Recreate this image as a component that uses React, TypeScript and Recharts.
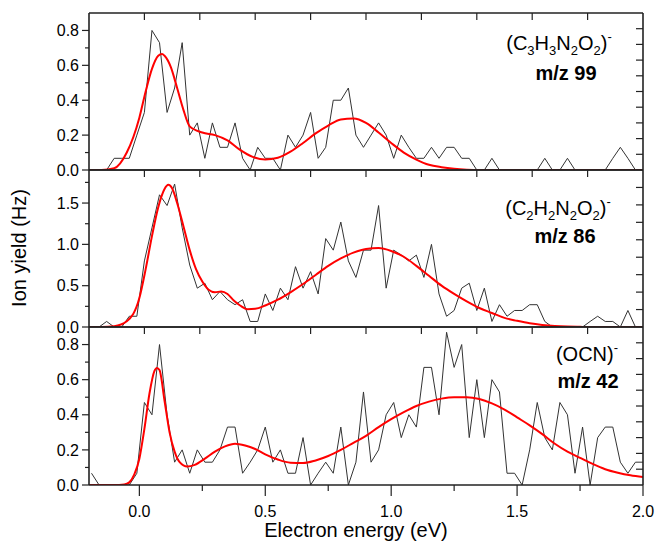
import React from 'react';
import { LineChart, Line, XAxis, YAxis } from 'recharts';

// Electron energy grid of the measured spectra (eV)
const energy = [
  -0.19, -0.16, -0.13, -0.10, -0.07, -0.04, -0.01, 0.02, 0.05, 0.08,
  0.11, 0.14, 0.17, 0.20, 0.23, 0.26, 0.29, 0.32, 0.35, 0.38,
  0.41, 0.44, 0.47, 0.50, 0.53, 0.56, 0.59, 0.62, 0.65, 0.68,
  0.71, 0.74, 0.77, 0.80, 0.83, 0.86, 0.89, 0.92, 0.95, 0.98,
  1.01, 1.04, 1.07, 1.10, 1.13, 1.16, 1.19, 1.22, 1.25, 1.28,
  1.31, 1.34, 1.37, 1.40, 1.43, 1.46, 1.49, 1.52, 1.55, 1.58,
  1.61, 1.64, 1.67, 1.70, 1.73, 1.76, 1.79, 1.82, 1.85, 1.88,
  1.91, 1.94, 1.97, 2.00,
];

// m/z 99 measured ion yield (Hz)
const yield99 = [
  0, 0, 0, 0.067, 0.067, 0.067, 0.2, 0.33, 0.8, 0.73,
  0.33, 0.47, 0.73, 0.2, 0.27, 0.067, 0.27, 0.13, 0.13, 0.27,
  0.067, 0, 0.13, 0.067, 0.067, 0, 0.2, 0.13, 0.2, 0.33,
  0.067, 0.13, 0.4, 0.4, 0.47, 0.2, 0.13, 0.2, 0.27, 0.2,
  0.067, 0.2, 0.13, 0.067, 0.067, 0.13, 0.067, 0.13, 0.13, 0.067,
  0.067, 0, 0, 0.067, 0, 0, 0, 0, 0, 0,
  0.067, 0, 0, 0.067, 0, 0, 0, 0, 0, 0.067,
  0.13, 0.067, 0, 0,
];

// m/z 86 measured ion yield (Hz)
const yield86 = [
  0, 0, 0.067, 0, 0, 0.13, 0.13, 0.8, 1.2, 1.6,
  1.47, 1.73, 1.2, 0.75, 0.47, 0.53, 0.33, 0.43, 0.33, 0.27,
  0.33, 0.067, 0.067, 0.4, 0.2, 0.47, 0.33, 0.73, 0.47, 0.67,
  0.4, 1.07, 0.93, 1.27, 0.8, 0.6, 0.93, 0.93, 1.47, 0.47,
  0.93, 0.87, 0.8, 0.87, 0.6, 1.0, 0.4, 0.13, 0.2, 0.47,
  0.53, 0.2, 0.47, 0.067, 0.27, 0.13, 0.2, 0.2, 0.27, 0.27,
  0.067, 0, 0, 0, 0, 0, 0.067, 0.13, 0.067, 0.067,
  0, 0.2, 0, 0,
];

// m/z 42 measured ion yield (Hz)
const yield42 = [
  0.067, 0, 0, 0, 0, 0, 0.067, 0.47, 0.4, 0.8,
  0.4, 0.13, 0.2, 0.067, 0.2, 0.13, 0.13, 0.2, 0.33, 0.33,
  0.067, 0.13, 0.2, 0.33, 0.13, 0.2, 0.067, 0.067, 0.27, 0,
  0.067, 0.13, 0.067, 0.33, 0, 0.13, 0.53, 0.13, 0.2, 0.4,
  0.47, 0.27, 0.4, 0.33, 0.67, 0.67, 0.4, 0.87, 0.67, 0.8,
  0.27, 0.6, 0.27, 0.6, 0.53, 0.067, 0.067, 0, 0.2, 0.47,
  0.27, 0.2, 0.47, 0.4, 0.067, 0.33, 0, 0.27, 0.33, 0.33,
  0.13, 0.067, 0.13, 0.13,
];

// Fitted curves (red)
const fit99Energy = [
  -0.2, -0.15, -0.1, -0.05, 0, 0.025, 0.05, 0.075, 0.09, 0.1,
  0.125, 0.15, 0.175, 0.2, 0.25, 0.3, 0.35, 0.4, 0.45, 0.5,
  0.55, 0.6, 0.65, 0.7, 0.75, 0.8, 0.85, 0.9, 0.95, 1.0,
  1.05, 1.1, 1.15, 1.2, 1.25, 1.3, 1.35, 1.5, 2.0,
];
const fit99 = [
  0, 0, 0.01, 0.1, 0.3, 0.45, 0.58, 0.655, 0.665, 0.655,
  0.59, 0.47, 0.345, 0.25, 0.215, 0.2, 0.17, 0.115, 0.075, 0.06,
  0.07, 0.105, 0.155, 0.21, 0.255, 0.29, 0.295, 0.27, 0.215, 0.155,
  0.1, 0.06, 0.03, 0.016, 0.007, 0.002, 0, 0, 0,
];

const fit86Energy = [
  -0.2, -0.15, -0.1, -0.05, 0, 0.025, 0.05, 0.075, 0.1, 0.115,
  0.13, 0.15, 0.175, 0.2, 0.225, 0.25, 0.275, 0.3, 0.325, 0.35,
  0.375, 0.4, 0.43, 0.46, 0.5, 0.55, 0.6, 0.65, 0.7, 0.75,
  0.8, 0.85, 0.9, 0.95, 1.0, 1.05, 1.1, 1.15, 1.2, 1.25,
  1.3, 1.35, 1.4, 1.45, 1.5, 1.55, 1.6, 1.65, 1.7, 1.75,
  1.8, 2.0,
];
const fit86 = [
  0, 0, 0.01, 0.07, 0.35, 0.7, 1.1, 1.45, 1.67, 1.72,
  1.68, 1.5, 1.22, 0.93, 0.7, 0.55, 0.45, 0.42, 0.43, 0.4,
  0.32, 0.26, 0.215, 0.22, 0.26, 0.33, 0.42, 0.52, 0.63, 0.74,
  0.83, 0.9, 0.945, 0.955, 0.92, 0.85, 0.74, 0.62, 0.5, 0.4,
  0.31, 0.23, 0.17, 0.11, 0.075, 0.045, 0.025, 0.012, 0.005, 0.002,
  0, 0,
];

const fit42Energy = [
  -0.2, -0.1, -0.06, -0.04, -0.02, 0, 0.02, 0.04, 0.06, 0.07,
  0.08, 0.1, 0.12, 0.14, 0.16, 0.19, 0.22, 0.26, 0.3, 0.34,
  0.38, 0.42, 0.46, 0.5, 0.55, 0.6, 0.65, 0.7, 0.75, 0.8,
  0.85, 0.9, 0.95, 1.0, 1.05, 1.1, 1.15, 1.2, 1.25, 1.3,
  1.35, 1.4, 1.45, 1.5, 1.55, 1.6, 1.65, 1.7, 1.75, 1.8,
  1.85, 1.9, 1.95, 2.0,
];
const fit42 = [
  0, 0, 0.003, 0.015, 0.06, 0.15, 0.32, 0.52, 0.65, 0.667,
  0.655, 0.48, 0.3, 0.19, 0.13, 0.105, 0.115, 0.15, 0.19, 0.22,
  0.235, 0.225, 0.205, 0.175, 0.145, 0.127, 0.125, 0.14, 0.165, 0.2,
  0.24, 0.28, 0.33, 0.375, 0.415, 0.45, 0.475, 0.492, 0.5, 0.5,
  0.49, 0.465, 0.43, 0.385, 0.34, 0.29, 0.235, 0.19, 0.155, 0.12,
  0.09, 0.07, 0.055, 0.045,
];

const X_MIN = -0.2;
const X_MAX = 2.0;
const xMajorTicks = [0, 0.5, 1.0, 1.5, 2.0];
const xMinorTicks = [0.25, 0.75, 1.25, 1.75];
const smallMajor = [0, 0.2, 0.4, 0.6, 0.8];
const smallMinor = [0.1, 0.3, 0.5, 0.7];
const bigMajor = [0, 0.5, 1.0, 1.5];
const bigMinor = [0.25, 0.75, 1.25, 1.75];
// opposite (top / right) frame edges are split into equal divisions
const topDivisions = 10;

const W = 655;
const H = 541;
const PLOT_LEFT = 89;
const PLOT_RIGHT = 643;
const AX = '#222';

const isIn = (arr: number[], v: number) => arr.some((a) => Math.abs(a - v) < 1e-9);

function XTick(props: any) {
  const { x, y, payload } = props;
  const v = payload.value as number;
  const major = isIn(xMajorTicks, v);
  return (
    <g>
      <line x1={x} x2={x} y1={y} y2={y + (major ? 11 : 6)} stroke={AX} strokeWidth={1.2} />
      {major && (
        <text x={x} y={y + 21} textAnchor="middle" fontSize={16} fill="#000" dy="0.71em">
          {v.toFixed(1)}
        </text>
      )}
    </g>
  );
}

function makeYTick(majors: number[]) {
  return function YTick(props: any) {
    const { x, y, payload } = props;
    const v = payload.value as number;
    const major = isIn(majors, v);
    return (
      <g>
        <line x1={x - (major ? 7 : 4)} x2={x} y1={y} y2={y} stroke={AX} strokeWidth={1.2} />
        {major && (
          <text x={x - 10} y={y} textAnchor="end" fontSize={16} fill="#000" dy="0.355em">
            {v.toFixed(1)}
          </text>
        )}
      </g>
    );
  };
}

type PanelProps = {
  top: number;
  bottom: number;
  yMax: number;
  major: number[];
  minor: number[];
  counts: number[];
  fitX: number[];
  fitY: number[];
  labelled: boolean;
};

function Panel({ top, bottom, yMax, major, minor, counts, fitX, fitY, labelled }: PanelProps) {
  const data = energy.map((x, i) => ({ x, y: counts[i] }));
  const fit = fitX.map((x, i) => ({ x, y: fitY[i] }));
  const yTicks = [...major, ...minor].sort((a, b) => a - b);
  const YTick = makeYTick(major);
  return (
    <div style={{ position: 'absolute', left: 0, top: 0 }}>
      <LineChart width={W} height={H} margin={{ top, bottom: H - bottom - 1, left: PLOT_LEFT - 1, right: W - PLOT_RIGHT }}>
        <XAxis
          xAxisId="e"
          dataKey="x"
          type="number"
          domain={[X_MIN, X_MAX]}
          allowDataOverflow
          height={1}
          ticks={labelled ? [...xMajorTicks, ...xMinorTicks].sort((a, b) => a - b) : []}
          tick={labelled ? <XTick /> : false}
          interval={0}
          tickSize={0}
          tickMargin={0}
          tickLine={false}
          stroke={AX}
          axisLine={{ stroke: AX, strokeWidth: 1.6 }}
        />
        <YAxis
          yAxisId="v"
          type="number"
          domain={[0, yMax]}
          allowDataOverflow
          width={1}
          ticks={yTicks}
          interval={0}
          tick={<YTick />}
          tickSize={0}
          tickMargin={0}
          tickLine={false}
          stroke={AX}
          axisLine={{ stroke: AX, strokeWidth: 1.6 }}
        />
        <Line
          xAxisId="e"
          yAxisId="v"
          data={data}
          dataKey="y"
          type="linear"
          stroke="#333"
          strokeWidth={1}
          dot={false}
          isAnimationActive={false}
        />
        <Line
          xAxisId="e"
          yAxisId="v"
          data={fit}
          dataKey="y"
          type="monotone"
          stroke="#ff0000"
          strokeWidth={2}
          dot={false}
          isAnimationActive={false}
        />
      </LineChart>
    </div>
  );
}

// Opposite frame edges (top and right) with their inward division ticks
const frames = [
  { top: 13, bottom: 170, rightDivisions: 10 },
  { top: 170, bottom: 327, rightDivisions: 9 },
  { top: 327, bottom: 485, rightDivisions: 10 },
];

function FrameOverlay() {
  const plotW = PLOT_RIGHT - PLOT_LEFT;
  return (
    <svg width={W} height={H} style={{ position: 'absolute', left: 0, top: 0, pointerEvents: 'none' }}>
      {frames.map((f, k) => {
        const plotH = f.bottom - f.top;
        return (
          <g key={k} stroke={AX}>
            <line x1={PLOT_LEFT} x2={PLOT_RIGHT} y1={f.top} y2={f.top} strokeWidth={1.6} />
            <line x1={PLOT_RIGHT} x2={PLOT_RIGHT} y1={f.top} y2={f.bottom} strokeWidth={1.6} />
            {Array.from({ length: topDivisions - 1 }, (_, i) => {
              const x = PLOT_LEFT + (plotW * (i + 1)) / topDivisions;
              return <line key={`t${i}`} x1={x} x2={x} y1={f.top} y2={f.top + 7} strokeWidth={1.2} />;
            })}
            {Array.from({ length: f.rightDivisions - 1 }, (_, i) => {
              const y = f.bottom - (plotH * (i + 1)) / f.rightDivisions;
              return <line key={`r${i}`} x1={PLOT_RIGHT - 7} x2={PLOT_RIGHT} y1={y} y2={y} strokeWidth={1.2} />;
            })}
          </g>
        );
      })}
    </svg>
  );
}

const subStyle: React.CSSProperties = { fontSize: 13, verticalAlign: 'baseline', position: 'relative', top: 5 };
const supStyle: React.CSSProperties = { fontSize: 13, verticalAlign: 'baseline', position: 'relative', top: -9 };

function Label({ x, y, bold, children }: { x: number; y: number; bold?: boolean; children: React.ReactNode }) {
  return (
    <div
      style={{
        position: 'absolute',
        left: x - 100,
        top: y,
        width: 200,
        textAlign: 'center',
        fontSize: 20,
        lineHeight: '20px',
        fontWeight: bold ? 'bold' : 'normal',
        color: '#000',
        whiteSpace: 'nowrap',
      }}
    >
      {children}
    </div>
  );
}

export default function App() {
  return (
    <div
      style={{
        position: 'absolute',
        left: 0,
        top: 0,
        width: W,
        height: H,
        background: '#fff',
        overflow: 'hidden',
        fontFamily: '"Liberation Sans", Arial, sans-serif',
      }}
    >
      <Panel top={13} bottom={170} yMax={0.9} major={smallMajor} minor={smallMinor} counts={yield99} fitX={fit99Energy} fitY={fit99} labelled={false} />
      <Panel top={170} bottom={327} yMax={1.9} major={bigMajor} minor={bigMinor} counts={yield86} fitX={fit86Energy} fitY={fit86} labelled={false} />
      <Panel top={327} bottom={485} yMax={0.9} major={smallMajor} minor={smallMinor} counts={yield42} fitX={fit42Energy} fitY={fit42} labelled={true} />
      <FrameOverlay />

      <Label x={559} y={33}>
        (C<span style={subStyle}>3</span>H<span style={subStyle}>3</span>N<span style={subStyle}>2</span>O<span style={subStyle}>2</span>)<span style={supStyle}>-</span>
      </Label>
      <Label x={566} y={63} bold>m/z 99</Label>

      <Label x={558} y={198}>
        (C<span style={subStyle}>2</span>H<span style={subStyle}>2</span>N<span style={subStyle}>2</span>O<span style={subStyle}>2</span>)<span style={supStyle}>-</span>
      </Label>
      <Label x={565} y={226} bold>m/z 86</Label>

      <Label x={587} y={344}>
        (OCN)<span style={supStyle}>-</span>
      </Label>
      <Label x={588} y={371} bold>m/z 42</Label>

      <div
        style={{
          position: 'absolute',
          left: 356 - 150,
          top: 520,
          width: 300,
          textAlign: 'center',
          fontSize: 20,
          lineHeight: '20px',
          color: '#000',
        }}
      >
        Electron energy (eV)
      </div>
      <div
        style={{
          position: 'absolute',
          left: 19 - 100,
          top: 248 - 10,
          width: 200,
          height: 20,
          textAlign: 'center',
          fontSize: 20,
          lineHeight: '20px',
          color: '#000',
          transform: 'rotate(-90deg)',
          transformOrigin: '100px 10px',
        }}
      >
        Ion yield (Hz)
      </div>
    </div>
  );
}
